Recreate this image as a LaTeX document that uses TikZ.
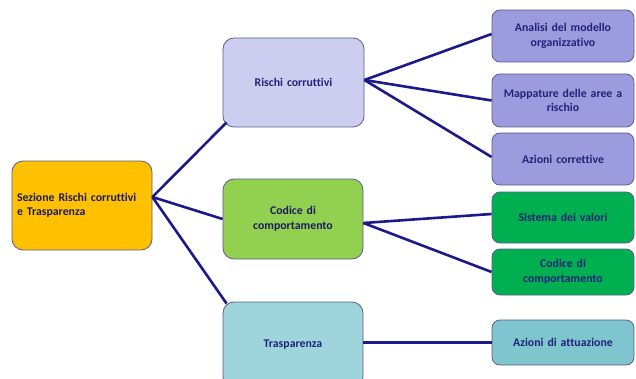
\documentclass[tikz,border=0pt]{standalone}
\usepackage{fontspec}
\setmainfont{Carlito}[Ligatures=NoCommon]
\usetikzlibrary{calc}

\newlength{\du}
\setlength{\du}{1\unitlength}

\definecolor{dialinecolor}{HTML}{1A1A8A}
\definecolor{boxborder}{HTML}{5C5C8C}
\definecolor{boxtext}{HTML}{22227A}
\definecolor{sezionefill}{HTML}{FFC000}
\definecolor{rischifill}{HTML}{CDCDEF}
\definecolor{codicefill}{HTML}{92D050}
\definecolor{traspfill}{HTML}{9ED4DB}
\definecolor{rischisubfill}{HTML}{9B9BDE}
\definecolor{codicesubfill}{HTML}{00B050}
\definecolor{traspsubfill}{HTML}{7EC5CD}

\tikzset{
  box/.style={draw=boxborder, line width=0.8\du, rounded corners=11\du,
    font=\bfseries\fontsize{11.8}{14.5}\selectfont, text=boxtext,
    align=center, inner sep=2\du},
  subbox/.style={box, rounded corners=8\du, minimum width=142\du, text width=136\du},
  link/.style={draw=dialinecolor, line width=2.6\du},
}

\begin{document}
\begin{tikzpicture}
\useasboundingbox (0,0) rectangle (636\du,378\du);

% livello 1
\node[box, fill=sezionefill, align=left, text=boxtext!80!black,
  minimum width=140\du, minimum height=89\du, text width=130\du]
  (sezione) at (82\du,172.5\du) {Sezione Rischi corruttivi\\e Trasparenza};

% livello 2
\node[box, fill=rischifill, minimum width=141\du, minimum height=89\du, text width=130\du]
  (rischi) at (293.5\du,295.5\du) {Rischi corruttivi};
\node[box, fill=codicefill, text=boxtext!80!black, minimum width=140\du, minimum height=80\du, text width=130\du]
  (codice) at (293\du,159\du) {Codice di\\comportamento};
\node[box, fill=traspfill, minimum width=140\du, minimum height=86\du, text width=130\du]
  (trasp) at (293\du,33\du) {Trasparenza};

% livello 3
\node[subbox, fill=rischisubfill, minimum height=52\du]
  (analisi) at (563\du,342\du) {Analisi del modello\\organizzativo};
\node[subbox, fill=rischisubfill, minimum height=53\du]
  (mappature) at (563\du,277.5\du) {Mappature delle aree a\\rischio};
\node[subbox, fill=rischisubfill, minimum height=52\du]
  (azcorr) at (563\du,219\du) {Azioni correttive};
\node[subbox, fill=codicesubfill, minimum height=51\du]
  (sistema) at (563\du,160.5\du) {Sistema dei valori};
\node[subbox, fill=codicesubfill, minimum height=46\du]
  (codicesub) at (563\du,106\du) {Codice di\\comportamento};
\node[subbox, fill=traspsubfill, minimum height=45\du]
  (azatt) at (563\du,35.5\du) {Azioni di attuazione};

% collegamenti
\draw[link] ([yshift=8.5\du]sezione.east) -- ([shift={(4\du,5\du)}]rischi.south west);
\draw[link] ([yshift=8.5\du]sezione.east) -- (codice.west);
\draw[link] ([yshift=8.5\du]sezione.east) -- ([shift={(4\du,-2\du)}]trasp.north west);

\draw[link] ([yshift=2.5\du]rischi.east) -- ([yshift=2\du]analisi.west);
\draw[link] ([yshift=2.5\du]rischi.east) -- (mappature.west);
\draw[link] ([yshift=2.5\du]rischi.east) -- ([yshift=2\du]azcorr.west);

\draw[link] ([yshift=-4\du]codice.east) -- ([yshift=3.5\du]sistema.west);
\draw[link] ([yshift=-4\du]codice.east) -- (codicesub.west);

\draw[link] (trasp.east |- azatt.west) -- (azatt.west);
\end{tikzpicture}
\end{document}
